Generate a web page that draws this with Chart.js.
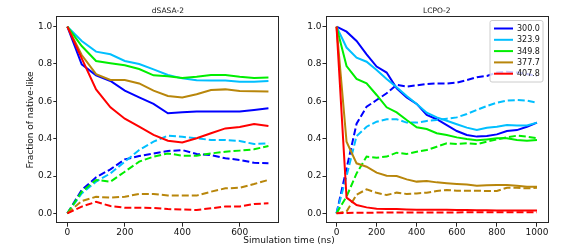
<!DOCTYPE html>
<html>
<head>
<meta charset="utf-8">
<script src="https://cdn.jsdelivr.net/npm/chart.js@4/dist/chart.umd.min.js"></script>
<style>
  html, body { margin: 0; padding: 0; background: #fff; }
  #wrap { position: relative; width: 576px; height: 248px; }
  canvas { position: absolute; left: 0; top: 0; }
</style>
</head>
<body>
<div id="wrap">
  <canvas id="c1" width="576" height="248"></canvas>
  <canvas id="c2" width="576" height="248"></canvas>
</div>
<script>
// ---------- data ----------
const temperatures = ['300.0', '323.9', '349.8', '377.7', '407.8'];

const dsasaTime = [0, 50, 100, 150, 200, 250, 300, 350, 400, 450, 500, 550, 600, 650, 700];
const dsasaSolid300 = [1.0, 0.798, 0.739, 0.709, 0.657, 0.621, 0.586, 0.536, 0.541, 0.546, 0.545, 0.545, 0.545, 0.554, 0.563];
const dsasaSolid323 = [1.0, 0.923, 0.866, 0.852, 0.816, 0.800, 0.771, 0.741, 0.723, 0.713, 0.711, 0.711, 0.705, 0.705, 0.709];
const dsasaSolid349 = [1.0, 0.896, 0.816, 0.804, 0.793, 0.773, 0.739, 0.734, 0.725, 0.732, 0.741, 0.741, 0.732, 0.725, 0.727];
const dsasaSolid377 = [1.0, 0.848, 0.746, 0.714, 0.714, 0.696, 0.657, 0.629, 0.620, 0.638, 0.661, 0.664, 0.655, 0.654, 0.652];
const dsasaSolid407 = [1.0, 0.830, 0.664, 0.568, 0.507, 0.464, 0.420, 0.389, 0.380, 0.402, 0.429, 0.455, 0.462, 0.479, 0.468];
const dsasaDashed300 = [0, 0.125, 0.193, 0.236, 0.289, 0.307, 0.321, 0.334, 0.339, 0.318, 0.312, 0.295, 0.286, 0.271, 0.268];
const dsasaDashed323 = [0, 0.107, 0.170, 0.214, 0.277, 0.339, 0.384, 0.416, 0.410, 0.402, 0.393, 0.393, 0.388, 0.371, 0.375];
const dsasaDashed349 = [0, 0.116, 0.179, 0.170, 0.223, 0.277, 0.304, 0.321, 0.309, 0.309, 0.321, 0.330, 0.336, 0.343, 0.361];
const dsasaDashed377 = [0, 0.066, 0.089, 0.084, 0.089, 0.104, 0.104, 0.096, 0.095, 0.095, 0.116, 0.134, 0.137, 0.157, 0.179];
const dsasaDashed407 = [0, 0.036, 0.062, 0.039, 0.030, 0.030, 0.029, 0.023, 0.021, 0.018, 0.027, 0.037, 0.037, 0.050, 0.054];

const lcpoTime = [0, 50, 100, 150, 200, 250, 300, 350, 400, 450, 500, 550, 600, 650, 700, 750, 800, 850, 900, 950, 1000];
const lcpoSolid300 = [1.0, 0.973, 0.923, 0.852, 0.786, 0.754, 0.670, 0.621, 0.586, 0.527, 0.504, 0.473, 0.441, 0.420, 0.411, 0.414, 0.423, 0.441, 0.446, 0.464, 0.486];
const lcpoSolid323 = [1.0, 0.888, 0.834, 0.812, 0.768, 0.720, 0.675, 0.629, 0.586, 0.539, 0.514, 0.496, 0.477, 0.459, 0.446, 0.459, 0.464, 0.473, 0.470, 0.471, 0.486];
const lcpoSolid349 = [1.0, 0.789, 0.720, 0.696, 0.634, 0.568, 0.541, 0.500, 0.461, 0.452, 0.429, 0.420, 0.407, 0.398, 0.391, 0.396, 0.402, 0.402, 0.393, 0.389, 0.393];
const lcpoSolid377 = [1.0, 0.384, 0.268, 0.250, 0.218, 0.202, 0.200, 0.182, 0.170, 0.173, 0.166, 0.161, 0.157, 0.154, 0.148, 0.150, 0.152, 0.152, 0.148, 0.143, 0.143];
const lcpoSolid407 = [1.0, 0.084, 0.045, 0.032, 0.025, 0.023, 0.023, 0.021, 0.020, 0.020, 0.019, 0.019, 0.018, 0.018, 0.017, 0.017, 0.016, 0.016, 0.016, 0.016, 0.016];
const lcpoDashed300 = [0, 0.240, 0.480, 0.571, 0.607, 0.643, 0.688, 0.679, 0.686, 0.693, 0.696, 0.695, 0.700, 0.714, 0.729, 0.736, 0.754, 0.759, 0.754, 0.746, 0.736];
const lcpoDashed323 = [0, 0.200, 0.414, 0.464, 0.491, 0.504, 0.504, 0.486, 0.486, 0.495, 0.500, 0.507, 0.514, 0.532, 0.554, 0.575, 0.593, 0.604, 0.607, 0.604, 0.593];
const lcpoDashed349 = [0, 0.090, 0.214, 0.304, 0.298, 0.304, 0.325, 0.318, 0.330, 0.339, 0.357, 0.375, 0.371, 0.375, 0.371, 0.384, 0.396, 0.407, 0.416, 0.411, 0.402];
const lcpoDashed377 = [0, 0.010, 0.100, 0.129, 0.110, 0.098, 0.111, 0.104, 0.107, 0.111, 0.120, 0.125, 0.121, 0.121, 0.121, 0.120, 0.120, 0.137, 0.137, 0.134, 0.137];
const lcpoDashed407 = [0, 0.002, 0.003, 0.003, 0.004, 0.004, 0.004, 0.005, 0.005, 0.005, 0.005, 0.005, 0.005, 0.006, 0.006, 0.006, 0.006, 0.006, 0.006, 0.006, 0.006];

const yTicks = [0.0, 0.2, 0.4, 0.6, 0.8, 1.0];
const dsasaXTicks = [0, 200, 400, 600];
const lcpoXTicks = [0, 200, 400, 600, 800, 1000];

const panelTitles = ['dSASA-2', 'LCPO-2'];
const xAxisLabel = 'Simulation time (ns)';
const yAxisLabel = 'Fraction of native-like';

// ---------- styles ----------
const seriesColors = ['#0000ff', '#00bfff', '#00ee00', '#b8860b', '#ff0000'];
const FONT = "'DejaVu Sans', 'Liberation Sans', sans-serif";
const TEXT = '#111';

function pts(xs, ys) { return xs.map((x, i) => ({ x: x, y: ys[i] })); }

function buildDatasets(xs, solids, dashes) {
  const ds = [];
  let k = 0;
  for (let i = 0; i < solids.length; i++) {
    ds.push({ label: temperatures[i], data: pts(xs, solids[i]), borderColor: seriesColors[i],
      borderWidth: 2, pointRadius: 0, tension: 0, fill: false, order: -(k++) });
    ds.push({ label: temperatures[i] + ' dashed', data: pts(xs, dashes[i]), borderColor: seriesColors[i],
      borderWidth: 2, pointRadius: 0, tension: 0, fill: false, borderDash: [7, 3], order: -(k++) });
  }
  return ds;
}

const decoPlugin = {
  id: 'deco',
  afterDraw(chart, args, opts) {
    const ctx = chart.ctx;
    const a = chart.chartArea;
    ctx.save();
    // frame
    ctx.strokeStyle = '#262626';
    ctx.lineWidth = 1;
    ctx.strokeRect(Math.round(a.left) - 0.5, Math.round(a.top) - 0.5,
      Math.round(a.right - a.left) + 1, Math.round(a.bottom - a.top) + 1);
    // title
    ctx.fillStyle = TEXT;
    ctx.font = '7.5px ' + FONT;
    ctx.textAlign = 'center';
    ctx.textBaseline = 'middle';
    ctx.fillText(opts.title, (a.left + a.right) / 2, 11);
    if (opts.yLabel) {
      ctx.save();
      ctx.font = '9px ' + FONT;
      ctx.translate(31, (a.top + a.bottom) / 2);
      ctx.rotate(-Math.PI / 2);
      ctx.fillText(opts.yLabel, 0, 0);
      ctx.restore();
    }
    if (opts.xLabel) {
      ctx.font = '9px ' + FONT;
      ctx.fillText(opts.xLabel, 289, 241);
    }
    if (opts.legend) {
      const L = 490, R = 543, T = 20.5, B = 82, r = 2;
      ctx.beginPath();
      ctx.moveTo(L + r, T);
      ctx.lineTo(R - r, T); ctx.arcTo(R, T, R, T + r, r);
      ctx.lineTo(R, B - r); ctx.arcTo(R, B, R - r, B, r);
      ctx.lineTo(L + r, B); ctx.arcTo(L, B, L, B - r, r);
      ctx.lineTo(L, T + r); ctx.arcTo(L, T, L + r, T, r);
      ctx.closePath();
      ctx.fillStyle = 'rgba(255,255,255,0.8)';
      ctx.fill();
      ctx.strokeStyle = '#cccccc';
      ctx.lineWidth = 1;
      ctx.stroke();
      ctx.font = '8px ' + FONT;
      ctx.textAlign = 'left';
      for (let i = 0; i < temperatures.length; i++) {
        const y = 28.5 + i * 11.3;
        ctx.strokeStyle = seriesColors[i];
        ctx.lineWidth = 2;
        ctx.beginPath();
        ctx.moveTo(494, y); ctx.lineTo(513, y);
        ctx.stroke();
        ctx.fillStyle = TEXT;
        ctx.fillText(temperatures[i], 517, y + 0.5);
      }
    }
    ctx.restore();
  }
};

function makeChart(id, xs, solids, dashes, xTicks, xMin, xMax, pad, yWidth, deco) {
  return new Chart(document.getElementById(id), {
    type: 'line',
    data: { datasets: buildDatasets(xs, solids, dashes) },
    options: {
      responsive: false,
      devicePixelRatio: 1,
      animation: false,
      events: [],
      layout: { padding: pad },
      plugins: { legend: { display: false }, tooltip: { enabled: false }, deco: deco },
      scales: {
        x: {
          type: 'linear', min: xMin, max: xMax,
          afterBuildTicks: s => { s.ticks = xTicks.map(v => ({ value: v })); },
          afterFit: s => { s.height = 25.3; },
          grid: { drawOnChartArea: false, drawTicks: true, tickLength: 4, color: '#262626', lineWidth: 1 },
          border: { display: false },
          ticks: { font: { family: FONT, size: 9 }, color: TEXT, padding: 1, maxRotation: 0,
            callback: v => String(v) }
        },
        y: {
          type: 'linear', min: -0.05, max: 1.05,
          afterBuildTicks: s => { s.ticks = yTicks.map(v => ({ value: v })); },
          afterFit: s => { s.width = yWidth; },
          grid: { drawOnChartArea: false, drawTicks: true, tickLength: 4, color: '#262626', lineWidth: 1 },
          border: { display: false },
          ticks: { font: { family: FONT, size: 9 }, color: TEXT, padding: 1,
            callback: v => Number(v).toFixed(1) }
        }
      }
    },
    plugins: [decoPlugin]
  });
}

makeChart('c1', dsasaTime,
  [dsasaSolid300, dsasaSolid323, dsasaSolid349, dsasaSolid377, dsasaSolid407],
  [dsasaDashed300, dsasaDashed323, dsasaDashed349, dsasaDashed377, dsasaDashed407],
  dsasaXTicks, -35, 735,
  { left: 0, top: 17.3, right: 297.5, bottom: 0 }, 57.3,
  { title: panelTitles[0], yLabel: yAxisLabel, xLabel: xAxisLabel, legend: false });

makeChart('c2', lcpoTime,
  [lcpoSolid300, lcpoSolid323, lcpoSolid349, lcpoSolid377, lcpoSolid407],
  [lcpoDashed300, lcpoDashed323, lcpoDashed349, lcpoDashed377, lcpoDashed407],
  lcpoXTicks, -50, 1050,
  { left: 300, top: 17.3, right: 29, bottom: 0 }, 26.5,
  { title: panelTitles[1], yLabel: null, xLabel: null, legend: true });
</script>
</body>
</html>
